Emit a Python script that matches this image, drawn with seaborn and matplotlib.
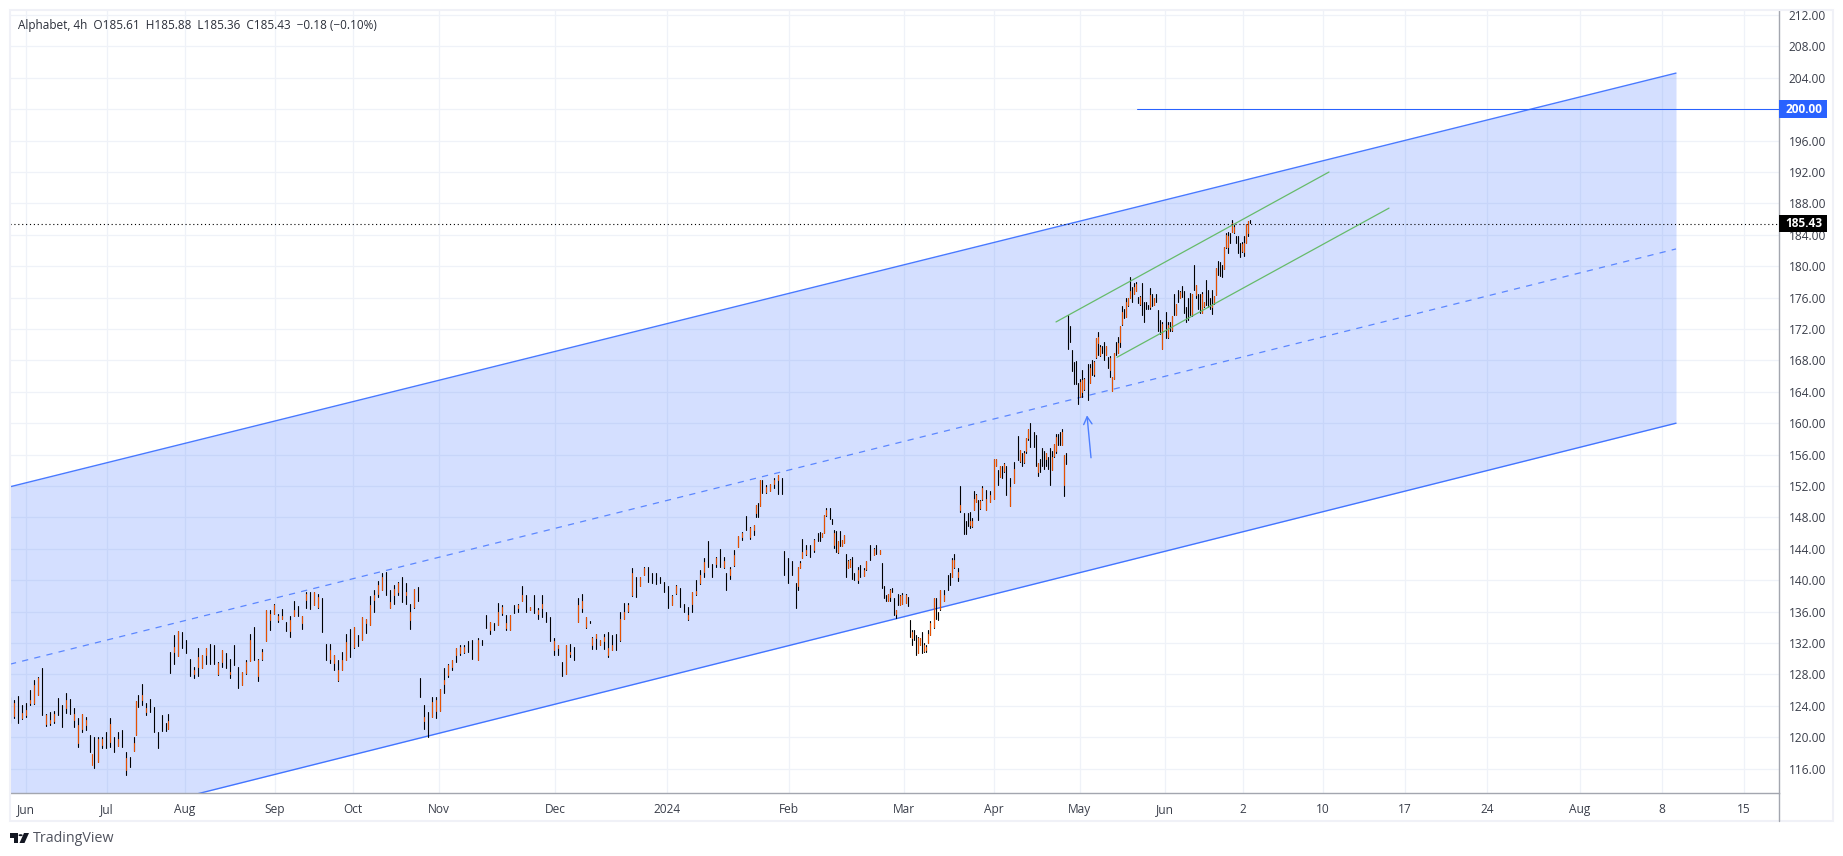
import numpy as np
import pandas as pd
import matplotlib
matplotlib.use("Agg")
import matplotlib.pyplot as plt
from matplotlib.patches import Rectangle, Polygon, Circle
import seaborn as sns

# ---- data ----
bar_no = [
0,2,4,6,8,10,12,14,16,18,
20,22,24,26,28,30,32,34,36,38,
40,42,44,46,48,50,52,54,56,58,
60,62,63,64,66,68,70,72,74,76,
78,79,80,82,84,86,88,90,92,94,
96,98,100,102,104,106,108,110,112,114,
116,118,120,122,124,126,128,130,132,134,
136,138,140,142,144,146,148,150,152,154,
156,158,160,162,164,166,168,170,172,174,
176,178,180,182,184,186,188,190,192,194,
196,198,200,202,204,205,207,209,211,213,
215,217,219,221,223,225,227,229,231,234,
236,238,240,242,244,246,248,250,252,254,
256,258,260,262,264,266,268,270,272,274,
276,278,280,282,284,286,288,290,291,293,
295,297,299,301,303,305,307,309,311,313,
315,317,319,321,323,325,327,329,331,333,
335,337,339,341,343,345,347,349,351,353,
355,357,358,360,362,364,366,368,370,372,
373,374,375,376,378,380,382,384,386,387,
389,391,393,394,395,396,398,400,402,404,
405,406,407,408,410,411,412,413,414,415,
416,417,418,419,420,421,422,424,425,427,
428,430,432,433,435,436,437,438,439,440,
441,442,443,444,445,446,448,449,450,451,
452,453,454,455,456,457,458,459,460,462,
463,464,465,467,469,470,471,472,474,475,
477,478,479,480,481,482,483,484,485,486,
488,490,492,493,494,495,496,497,498,500,
502,504,505,506,507,508,509,510,512,513,
514,515,516,517,518,519,520,521,522,523,
524,525,526,527,528,529,530,531,532,533,
534,535,536,537,539,540,541,542,543,544,
545,546,547,548,549,550,551,552,553,554,
555,556,557,558,559,560,561,562,563,564,
565,566,567,568,569,570,571,572,573,574,
575,576,578,579,580,581,582,583,584,585,
586,587,588,589,590,591,592,593,594,595,
596,597,598,599,600,601,602,603,604,605,
606,607,608,609,610,611,612,613,614,615,
616,617,618,619,620]

bar_high = [
125.1,124.7,125.2,124.1,124.3,126.0,127.3,127.7,128.8,123.0,
123.2,123.4,125,124.1,125.6,124.9,123.7,122.4,123,122.6,
120.3,120,120,120,120.7,122.4,120,120.7,120.9,118.1,
117.5,120,124.6,125.4,126.8,124.4,124.9,123.9,120.7,122.8,
121.8,122.9,130.9,133,133.5,133.4,132.4,130,129,131.3,
130.5,131.3,131.9,131.7,129.6,131.1,130.7,130,131.7,129,
128.3,129.8,133.2,134,130,131.2,136.2,136.2,137,135.7,
136.3,134.7,135.5,137.3,136.7,135.5,138.5,138.5,138.5,138.3,
137.7,131.9,131.9,130.5,129.8,130.9,133.2,133.8,134,133,
135.3,135.1,138,138.7,139.9,140.9,141,138.7,139.4,139.8,
140.4,139.6,137,138.9,139.1,127.6,124.1,123.2,125.1,125.1,
126.2,128.8,129.3,129.8,131.3,131.7,131.7,132.2,132.4,132.6,
132.4,135.6,134.7,134.5,137.1,136.8,135.6,135.6,136.8,137,
139.3,138.1,136.6,138.1,136.4,138.1,135.9,135.3,132.6,131.7,
129.6,131.7,131.9,131.5,137.7,138.3,135.3,134.8,132.8,133.2,
132.4,133.2,133.4,133,133.2,136,137.1,137.1,141.5,140.4,
140.4,141.7,141.7,140.9,140.9,140.4,139.8,139.2,138.1,139.4,
139,137,136.6,138.5,140,141.3,142.8,145,142.1,143,
144,143,140.9,141.7,143.9,145.6,146.2,148.2,146.8,147,
149.6,149.8,152.8,152.8,152.1,152.3,153,153.4,153,143.7,
142.8,142.4,139.6,141.7,142.4,145.2,144.5,144.5,145.2,146,
146.2,146,148.3,149.2,149.2,147.8,146.4,146.3,145,146.3,
145.1,145.8,143.3,142.6,142.7,143,140.9,141.7,141.9,141.5,
142.5,144.5,144.1,144.5,143.9,142.2,139.2,138.1,138.3,138.9,
139,137.7,136.2,138.3,138.1,138.4,138.3,137.9,134.9,133.6,
133.6,133,132.8,132.6,133.4,132,131.7,133.6,134.8,137.7,
137.7,136,138.8,138.8,140.7,140.9,142.8,143.3,141.5,152,
148.5,147.5,148.6,148.7,147.9,151.3,151,150.2,150.2,152,
151.5,151.3,155.4,155.4,154,154.5,154.5,154.9,154.5,153,
155.1,158.4,156.6,156.2,156.4,158.1,159.3,160,158.9,158.5,
154.9,155.5,156.8,156.4,156.2,155.7,156.8,156.4,157.4,158.6,
158.6,158.9,159.3,155.9,156.2,173.8,172.4,169.3,167.8,167.9,
165.1,165.6,166.8,165.7,167.5,167.6,168,167.9,170.8,171.6,
169.9,169.8,170.4,169.8,168.4,168.5,165.9,169,170.4,171,
172.4,174.9,174.6,175.9,176,178.6,177.3,177.8,178,176.1,
176.2,177.9,175.5,175.5,175,177.2,176.5,176,176.5,174.4,
173.1,172.9,174.2,172.9,172.9,173.6,176.5,175.2,177,176.9,
177.5,176.9,174.8,176,176.6,176.5,180.1,177.6,176.5,176.5,
176.7,175.5,178.2,177,175.9,177,176.2,179.8,180.7,180.6,
180.1,182.4,184.2,184.3,184.2,185.9,185.2,183.8,183.8,183,
183.1,183.8,185.4,185.8,185.9]

bar_low = [
121.8,122.4,121.8,122.3,122.6,124.1,124.2,125.4,122.8,121.4,
121.5,121.8,122.8,121.3,123.1,123,121.3,118.7,120.7,120.9,
118.1,116.1,116.9,118.6,118.6,118.8,118.1,118.9,118.8,115.2,
116.2,118.3,120.3,123.9,124.1,122.8,123.2,120.7,118.6,120.8,
120.8,121.1,128.2,129.3,130.4,131.3,130.7,127.8,127.5,127.8,
128.8,129.3,129.3,129.3,127.9,129,128.8,127.6,129.2,126.3,
126.6,128.1,129.7,129.8,127.1,129.8,132.2,133.7,135.7,134.7,
135.1,133.5,132.8,135.5,135.5,133.8,136.4,136.3,136.9,136.4,
133.4,129.8,129.5,128.5,127.1,128.5,129.8,130.2,131.3,131.6,
132.4,133.3,134.3,136,137.9,138.7,138.1,136.4,137,138.1,
137.2,137,133.8,136.4,137.3,125.1,121.1,120,122.6,122.4,
123.4,125.6,127.7,128.5,129.6,130.5,130.7,130.9,130,129.8,
131.7,133.9,133.2,133.6,134.3,135.6,133.6,133.7,135.8,135.9,
137.3,135.9,136.2,135.8,135.1,135.3,134.7,132.2,130.5,130.5,
127.8,128.1,130.2,129.8,134.7,136,133.9,134.6,131.2,131.2,
131.7,131.2,130.2,131.1,131.1,132.2,135.1,136,138,137.9,
139.2,140.7,139.8,139.7,139.5,139.6,138.5,136.4,136.8,138.3,
136.6,136,134.9,136,138.1,139.5,140.4,141.7,140.4,141.7,
141.7,141.6,138.7,140.1,141.8,144.2,145.1,146.4,145.3,145.8,
148,148,149.4,151.1,151.1,151.3,151.7,151,151,140.7,
139.7,140.7,136.4,138.8,141.5,142.8,143.2,143,143.6,145,
145,145.5,146,148.2,147.8,147.2,144.1,143.6,143.5,144.3,
144.4,144.7,140.4,141.5,141.7,140.2,140,139.7,140.4,140.5,
141.3,142.6,143.2,143.4,143.4,139,137.7,137.3,137.3,137.3,
138.5,135.6,135.2,136.8,136.8,137,137.1,136.7,132.7,131.7,
132.4,130.5,130.7,131.7,130.7,130.9,130.9,132,133,133.9,
135.1,134.9,136.2,137.3,138.8,139.4,140.4,141.5,139.9,148.7,
145.9,145.9,146.9,146.7,146.8,148.9,150,147.7,149.1,150.2,
148.9,150,150.4,154.5,152.1,153.2,153,153.8,150.9,149.5,
152.4,155.3,155.1,154.5,154.9,156.2,157.9,157,157,154.5,
153.3,153.8,154.5,154.2,154.5,154.2,152.1,154,155.7,156.2,
157.2,157.2,157.2,150.7,154.8,169.5,170.4,166.6,165,165,
162.4,163.3,163.4,164.2,162.9,165.1,166.1,166,168.3,168.7,
168.5,169,168,168.7,167,165.9,164.1,165.6,168.7,168.9,
169.7,172.5,173.4,173.5,174.9,176,175.5,176.4,176.8,175.3,
175.1,173.8,172.9,174.6,174.6,174.6,174.9,175,175.5,171.7,
171.4,169.5,170.9,170.9,171.7,171.8,173.8,173.8,175.5,175.9,
176.1,174,172.9,173.1,173.8,173.6,177,176,174.6,174,
174.1,174.8,175.1,174.8,174.6,173.9,175.2,176.3,178.9,178.7,
178.6,179.6,182.3,181.7,183,184.4,184.2,183,181.7,181.2,
181.8,181.3,183,183.8,185.5]

# rising bars: body drawn in orange
up_no = [
2,6,8,10,12,14,18,20,22,28,
32,34,36,38,41,44,46,50,54,58,
62,63,66,68,79,82,84,92,94,96,
98,104,106,110,116,118,120,124,126,128,
130,132,134,136,140,142,146,148,152,154,
160,162,164,166,168,172,176,178,180,182,
184,186,190,192,194,198,200,202,207,211,
213,215,217,219,221,223,225,227,234,240,
244,246,248,250,254,256,260,264,266,272,
274,278,280,284,286,288,291,293,295,297,
299,301,305,307,309,311,315,317,331,333,
339,341,343,345,347,353,357,360,362,364,
366,370,372,373,375,378,380,382,384,394,
395,396,398,402,406,407,408,412,414,416,
417,419,420,424,427,428,432,435,439,440,
443,445,446,448,451,454,455,457,458,459,
460,462,465,467,471,472,474,475,480,481,
482,483,485,486,488,490,492,493,495,497,
500,502,505,507,508,509,514,518,521,522,
523,526,527,535,536,537,540,542,543,544,
545,548,550,551,552,554,555,556,558,559,
560,562,563,565,570,572,576,579,581,583,
585,591,593,596,597,601,602,603,607,608,
609,611,612,616,617,618,619]

up_open = [
122.7,122.5,122.8,124.3,124.3,125.4,121.7,121.8,122,123.7,
122.2,119.2,121.1,121.5,116.4,116.9,119,119.4,118.9,115.8,
118.3,120.3,124.7,123.2,121.1,130.9,130.4,128.1,129,128.8,
130.5,128.1,129.6,128.1,126.6,128.2,129.7,127.8,130,132.2,
134.9,135.7,134.9,135.1,133.5,135.5,134.6,137.5,136.9,136.6,
130,129.4,127.3,128.5,129.8,131.5,132.4,134.5,134.3,137.5,
138.3,138.7,136.4,138.1,138.5,138.1,134.9,136.6,122,122.6,
123.4,123.4,126.8,127.9,128.9,130.5,130.7,130.8,129.8,133.6,
134.3,135.8,133.9,133.7,136.4,137.3,136.2,135.7,136.4,131.1,
131.3,128.1,130.6,134.7,136.4,134.1,131.7,132.6,131.7,132.2,
130.5,131.1,132.4,135.1,136.1,138.1,139.3,140.7,136.9,138.4,
135,137,138.3,139.6,141.1,142.1,141.7,140.7,141.9,144.2,
145.5,145.5,146.4,148.5,149.4,151.2,151.4,152.3,152.8,139.2,
141.5,142.8,143.4,143.8,145.5,146,148.3,144.5,143.6,144.4,
144.7,141.6,141.7,140,140.5,141.4,143.2,143.4,137.4,137.9,
135.7,136.9,137,137.1,132.6,130.7,131.7,131,131.1,132,
133,134.1,136.3,137.3,140.4,141.7,140.4,148.9,147,146.9,
149,150,149.2,150.3,148.9,150,150.4,154.5,153.2,153.9,
149.5,152.4,155.2,155,156.5,158.1,153.8,155.5,154,155.8,
156.4,157.2,152.1,163.4,164,164.3,165.1,166.3,168.4,170.2,
168.7,168.7,166.8,164.1,165.6,169,170.4,172.6,173.5,175,
176,176.5,176.9,175.2,174.8,175.1,169.5,171,171.9,173.8,
176,173.8,176.3,174.1,174.9,174.8,175.3,176.3,179.7,182.5,
182.5,184.4,184.3,181.9,181.8,183,184.2]

up_close = [
124.4,123.1,123.5,124.8,126.6,127.6,122.8,122.2,123,124.8,
123,121.5,122.9,122.2,117.9,119.8,119.8,121.7,119.8,117.3,
119.2,124.6,125.4,123.7,122.1,131.5,133.5,128.5,130.2,130.5,
131.3,129.4,131.1,128.3,128.3,129.6,132.4,129.8,130.9,136.2,
135.7,136.8,135.5,135.5,134.9,136.2,135.5,138.3,138.5,137.9,
131.1,130.5,128.5,129.8,132.1,134,135.3,135.1,136.8,138.1,
139.4,140.4,137.2,138.9,139.6,138.5,136,138.9,122.6,124.5,
124.7,126.2,127.3,129.2,129.8,131.3,131.5,131.5,132.4,134.7,
136,136.6,134.5,135.6,136.8,138.1,136.6,136.2,137,132.2,
131.7,131.7,130.9,136.8,137.3,135.3,132.6,133.2,132.4,132.8,
131.3,131.7,135,136,136.8,140.9,140.4,141.5,138,139.3,
135.6,138.5,138.6,140.7,142.3,142.8,142.4,141.4,143.2,145.6,
146,146.6,147,149.6,152.8,151.9,152.2,152.8,153.4,141.7,
142.2,143.6,143.8,145.1,146,148.3,149,146,145,145.1,
145.8,142.5,142.6,141.3,141.3,142.4,144,143.8,138.3,138.8,
136.2,138,138.1,138.1,133.4,132.6,132.6,131.8,131.5,133.2,
134.5,137.7,138.8,138.1,142.6,142.6,141.1,149.6,147.5,147.5,
150.4,150.9,150.1,151.7,150.4,150.9,155.4,155.4,154.5,154.8,
151.9,154.2,156.6,156.2,158.1,159.3,154.9,156.2,155.7,157.3,
158.3,158.9,155.9,165.3,165.5,165.6,167,167.8,170.8,171,
169.7,169.8,168.3,165.9,169,170.2,172.4,174.2,175.5,175.9,
176.9,177.4,177.7,176.1,176.3,175.9,172.7,172.5,173.6,175.2,
176.7,176.5,177.6,176.5,175.4,175,176.2,179.8,182.4,184,
183.8,185.5,185,182.8,183,185.4,185.7]

# channel and trend lines: (bar number, price) at both ends
upper_line_x = [0, 833]
upper_line_y = [151.9, 204.6]
lower_line_x = [0, 833]
lower_line_y = [106.8, 160.0]
mid_line_x = [0, 833]
mid_line_y = [129.3, 182.2]
green_top_x = [523, 659.5]
green_top_y = [172.9, 192.0]
green_bot_x = [553.5, 689.5]
green_bot_y = [168.4, 187.4]
target_x = [563.5, 884.5]
target_y = [200.0, 200.0]
last_close = 185.43
target_price = 200.00

price_ticks = [212,208,204,200,196,192,188,184,180,176,172,168,164,160,156,152,148,
               144,140,136,132,128,124,120,116]
time_ticks = [8,48.5,87.5,132.5,171.5,214.5,272.5,328.5,389.5,447,492,535,577.5,616.5,
              656.5,697.5,738.5,785,826,867]
time_labels = ["Jun","Jul","Aug","Sep","Oct","Nov","Dec","2024","Feb","Mar","Apr","May",
               "Jun","2","10","17","24","Aug","8","15"]

FONT = "Open Sans"
BLUE = "#2962ff"
W, H = 1843, 856
sns.set_theme(style="white", rc={"font.family": FONT})

fig = plt.figure(figsize=(W/100, H/100), dpi=100, facecolor="white")
ax = fig.add_axes([10/W, (H-793)/H, 1769/W, 783/H])
ax.set_xlim(0, 884.5)
ax.set_ylim(112.89, 212.64)
ax.set_facecolor("white")

# grid; the 200.00 tick text is carried by the blue price tag
ax.set_xticks(time_ticks)
ax.set_xticklabels(time_labels)
ax.set_yticks(price_ticks)
ax.set_yticklabels(["" if p == target_price else f"{p:.2f}" for p in price_ticks])
ax.grid(True, color="#eff2f8", lw=0.9, zorder=0)
ax.set_axisbelow(True)
ax.yaxis.tick_right()
ax.tick_params(axis="both", length=0, labelsize=8.6, colors="#3a3e4a")
ax.tick_params(axis="x", pad=7)
ax.tick_params(axis="y", pad=7)
for s in ["top", "left"]:
    ax.spines[s].set_visible(False)
for s in ["right", "bottom"]:
    ax.spines[s].set_color("#a3a6af")
    ax.spines[s].set_linewidth(1.0)

# channel fill
ax.fill_between(upper_line_x, lower_line_y, upper_line_y, color=BLUE, alpha=0.2, lw=0, zorder=1)

# bars
wicks = pd.DataFrame({"bar": np.repeat(bar_no, 2),
                      "price": np.column_stack([bar_low, bar_high]).ravel(),
                      "id": np.repeat(bar_no, 2)})
sns.lineplot(data=wicks, x="bar", y="price", units="id", estimator=None, sort=False,
             color="#000000", lw=0.8, ax=ax, zorder=3, legend=False, errorbar=None)
bodies = pd.DataFrame({"bar": np.repeat(up_no, 2),
                       "price": np.column_stack([up_open, up_close]).ravel(),
                       "id": np.repeat(up_no, 2)})
sns.lineplot(data=bodies, x="bar", y="price", units="id", estimator=None, sort=False,
             color="#e65100", lw=0.8, ax=ax, zorder=4, legend=False, errorbar=None)

# lines
sns.lineplot(x=upper_line_x, y=upper_line_y, color=BLUE, alpha=0.85, lw=1.0, ax=ax, zorder=2)
sns.lineplot(x=lower_line_x, y=lower_line_y, color=BLUE, alpha=0.85, lw=1.0, ax=ax, zorder=2)
sns.lineplot(x=mid_line_x, y=mid_line_y, color=BLUE, alpha=0.7, lw=0.9, ax=ax, zorder=2,
             linestyle=(0, (5, 5)))
sns.lineplot(x=green_top_x, y=green_top_y, color="#66bb6a", lw=0.9, ax=ax, zorder=5)
sns.lineplot(x=green_bot_x, y=green_bot_y, color="#66bb6a", lw=0.9, ax=ax, zorder=5)
sns.lineplot(x=target_x, y=target_y, color=BLUE, lw=0.75, ax=ax, zorder=5)
ax.axhline(last_close, color="#000000", lw=0.8, ls=(0, (1, 2.5)), zorder=5)
ax.annotate("", xy=(538.5, 161.0), xytext=(540.5, 155.6),
            arrowprops=dict(arrowstyle="->,head_width=0.25,head_length=0.45",
                            color="#4d7fff", lw=1.0, shrinkA=0, shrinkB=0), zorder=5)
ax.set_xlabel("")
ax.set_ylabel("")
ax.set_xlim(0, 884.5)
ax.set_ylim(112.89, 212.64)

# price tags on the axis
tr = ax.get_yaxis_transform()
for price, col in [(target_price, BLUE), (last_close, "#000000")]:
    ax.add_patch(Rectangle((1.0, price-1.12), 48/1769, 2.24, transform=tr, facecolor=col,
                           edgecolor="none", clip_on=False, zorder=8))
    ax.text(1.0+25/1769, price-0.05, f"{price:.2f}", transform=tr, color="white", fontsize=8.6,
            fontweight="bold", ha="center", va="center", clip_on=False, zorder=9)

# outer frame
def px(x, y):
    return (x/W, 1-y/H)
fig.add_artist(Rectangle(px(10, 821), 1823/W, 811/H, transform=fig.transFigure, fill=False,
                         edgecolor="#f0f1f7", lw=1.5))
fig.add_artist(plt.Line2D([1779/W, 1779/W], [1-821/H, 1-793/H], color="#a3a6af", lw=1.0))

# title line
fig.text(18/W, 1-25.5/H, "Alphabet, 4h  O185.61  H185.88  L185.36  C185.43  \u22120.18 (\u22120.10%)",
         fontsize=8.45, color="#2a2e39", va="center", ha="left", family=FONT)

# TradingView mark and name
logo = "#131722"
fig.add_artist(Polygon([px(10,833),px(18,833),px(18,843),px(13.5,843),px(13.5,837.5),px(10,837.5)],
                       transform=fig.transFigure, facecolor=logo, edgecolor="none"))
fig.add_artist(Polygon([px(24,833),px(29,833),px(24.5,843),px(19.5,843)],
                       transform=fig.transFigure, facecolor=logo, edgecolor="none"))
fig.add_artist(Circle(px(20.6, 835.2), 2.1/W, transform=fig.transFigure, facecolor=logo, edgecolor="none"))
fig.text(33/W, 1-838.5/H, "TradingView", fontsize=10.3, color="#50535e", va="center", ha="left", family=FONT)

fig.savefig("out.png", dpi=100, facecolor="white")
